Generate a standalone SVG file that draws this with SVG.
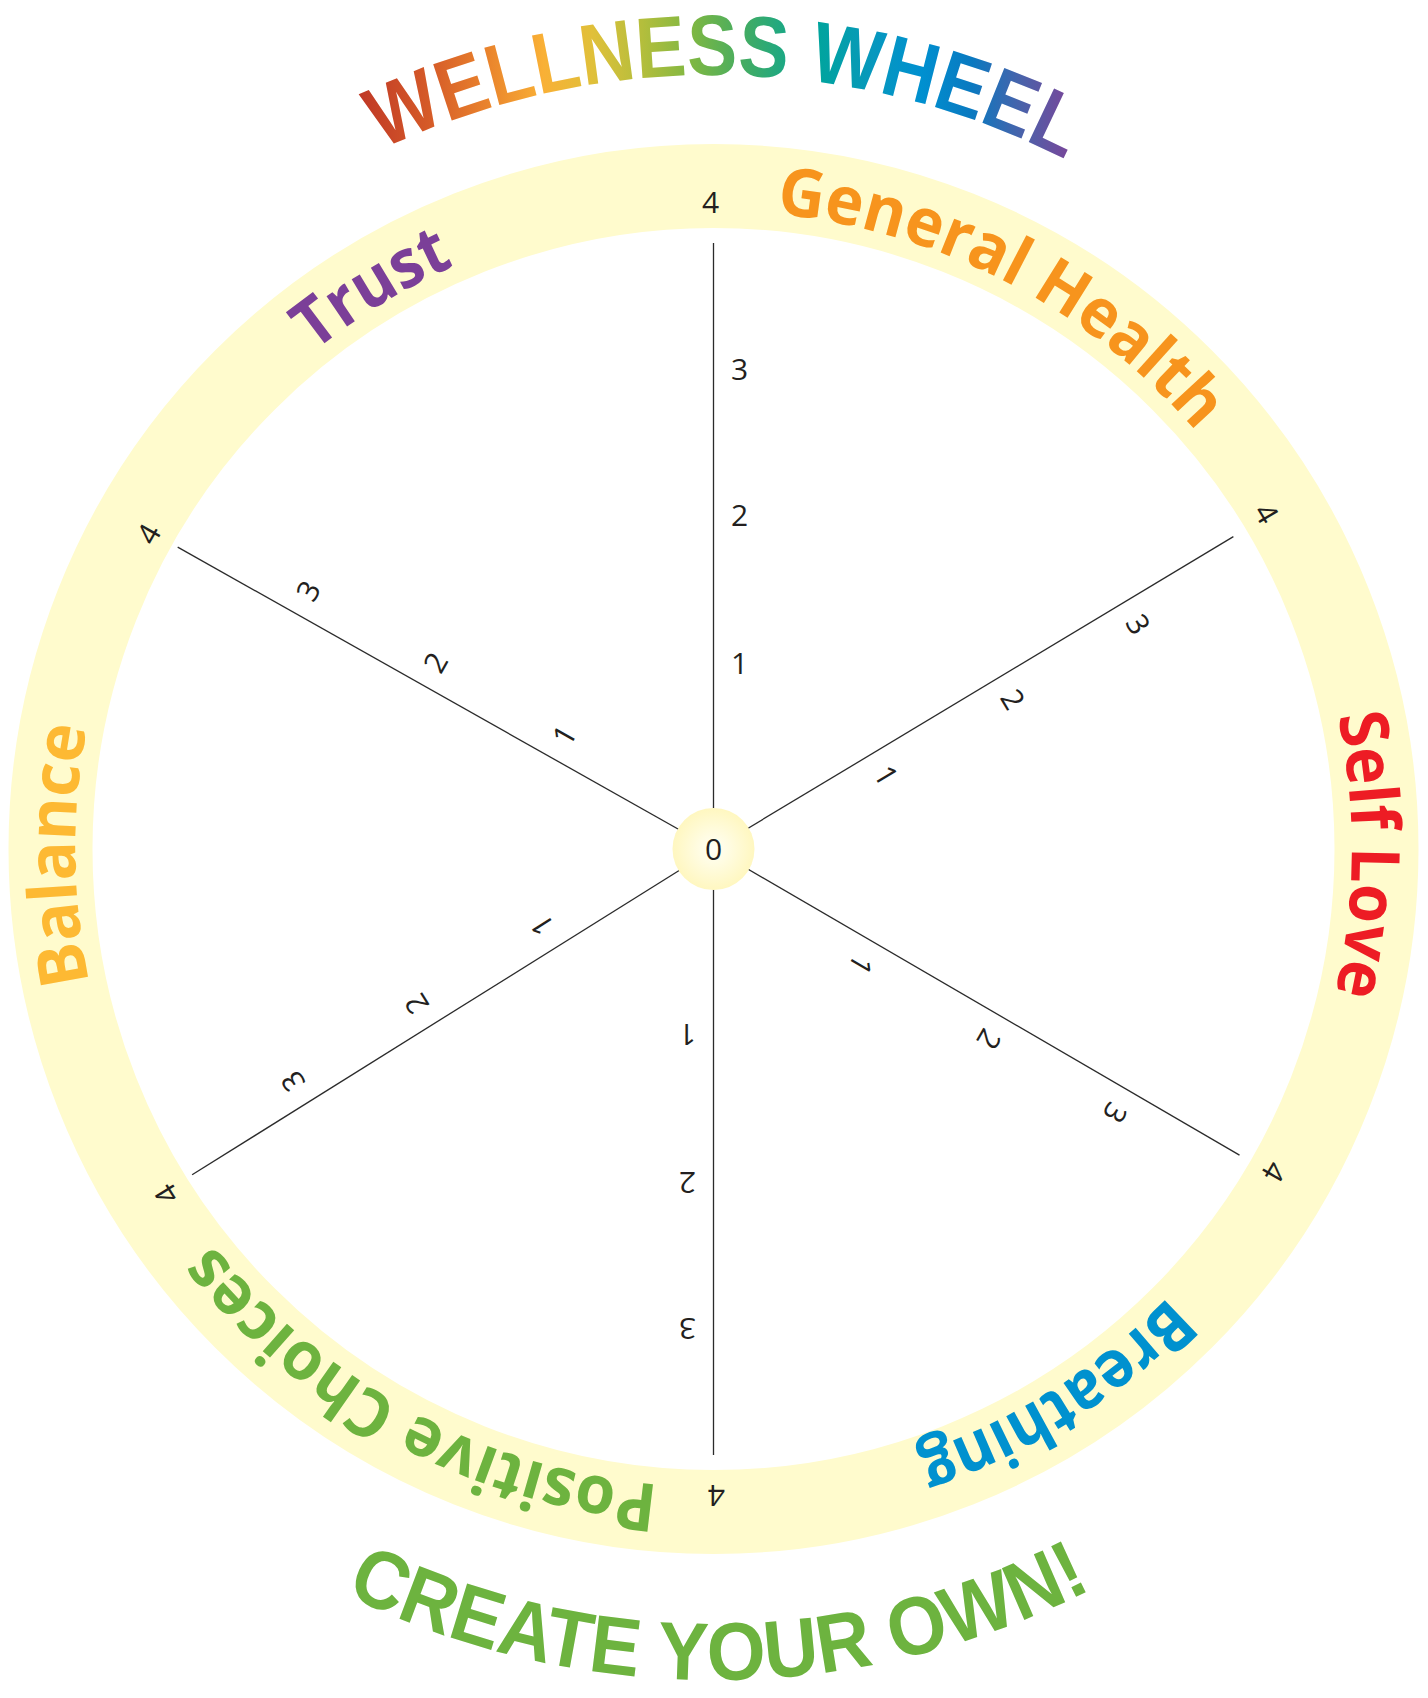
<svg xmlns="http://www.w3.org/2000/svg" width="1428" height="1698" viewBox="0 0 1428 1698">
<defs>
<style>
.num{font-family:"Open Sans","Liberation Sans",sans-serif;font-size:30px;fill:#231F20;text-anchor:middle}
.lab{font-family:"Open Sans","Liberation Sans",sans-serif;font-weight:700;font-size:67px;text-anchor:middle}
.big{font-family:"Liberation Sans","Open Sans",sans-serif;font-weight:700;text-anchor:middle}
.axis{stroke:#2B2B2B;stroke-width:1.3;fill:none}
</style>
<path id="ringPath" d="M713.5,211 A638,638 0 1 1 713.5,1487 A638,638 0 1 1 713.5,211"/>
<path id="titlePath" d="M-60.5,849 A774,774 0 0 1 1487.5,849"/>
<path id="bottomPath" d="M-117.5,849 A831,831 0 0 0 1544.5,849"/>
<linearGradient id="titleGrad" gradientUnits="userSpaceOnUse" x1="357" y1="0" x2="1072" y2="0">
<stop offset="0" stop-color="#BF3726"/>
<stop offset="0.1" stop-color="#D55A28"/>
<stop offset="0.18" stop-color="#E9822C"/>
<stop offset="0.26" stop-color="#F9B036"/>
<stop offset="0.33" stop-color="#E0C03A"/>
<stop offset="0.40" stop-color="#B3BE3C"/>
<stop offset="0.47" stop-color="#7DB743"/>
<stop offset="0.54" stop-color="#44AC62"/>
<stop offset="0.64" stop-color="#00A59B"/>
<stop offset="0.72" stop-color="#0798BD"/>
<stop offset="0.79" stop-color="#0090D0"/>
<stop offset="0.86" stop-color="#0A79C0"/>
<stop offset="0.93" stop-color="#4A62AA"/>
<stop offset="1" stop-color="#7B4599"/>
</linearGradient>
<radialGradient id="hubGrad" cx="0.5" cy="0.5" r="0.5">
<stop offset="0" stop-color="#FFFFF6"/>
<stop offset="1" stop-color="#FFF7C0"/>
</radialGradient>
</defs>
<rect width="1428" height="1698" fill="#FFFFFF"/>

<g id="ring">
<circle cx="713.5" cy="849" r="663" fill="none" stroke="#FFFBCD" stroke-width="84"/>
</g>

<g id="title">
<text class="big" font-size="86" fill="url(#titleGrad)"><textPath href="#titlePath" startOffset="1227" textLength="708" lengthAdjust="spacingAndGlyphs">WELLNESS WHEEL</textPath></text>
</g>

<g id="footer">
<text class="big" font-size="82" fill="#6DB33F"><textPath href="#bottomPath" startOffset="1311" textLength="775" lengthAdjust="spacingAndGlyphs">CREATE YOUR OWN!</textPath></text>
</g>

<g id="connectors">
<line class="axis" x1="713.5" y1="849" x2="713.5" y2="243" transform="rotate(0 713.5 849)"/>
<line class="axis" x1="713.5" y1="849" x2="713.5" y2="242.5" transform="rotate(59 713.5 849)"/>
<line class="axis" x1="713.5" y1="849" x2="713.5" y2="240.4" transform="rotate(120.2 713.5 849)"/>
<line class="axis" x1="713.5" y1="849" x2="713.5" y2="243" transform="rotate(180 713.5 849)"/>
<line class="axis" x1="713.5" y1="849" x2="713.5" y2="234.2" transform="rotate(238 713.5 849)"/>
<line class="axis" x1="713.5" y1="849" x2="713.5" y2="234" transform="rotate(299.4 713.5 849)"/>
</g>

<g id="scale-general-health" transform="rotate(0 713.5 849)">
<text class="num" x="739.5" y="674">1</text>
<text class="num" x="739.5" y="526">2</text>
<text class="num" x="739.5" y="380">3</text>
<text class="num" x="710.5" y="213">4</text>
</g>
<g id="scale-self-love" transform="rotate(59 713.5 849)">
<text class="num" x="739.5" y="674">1</text>
<text class="num" x="739.5" y="526">2</text>
<text class="num" x="739.5" y="380">3</text>
<text class="num" x="710.5" y="213">4</text>
</g>
<g id="scale-breathing" transform="rotate(120.2 713.5 849)">
<text class="num" x="739.5" y="674">1</text>
<text class="num" x="739.5" y="526">2</text>
<text class="num" x="739.5" y="380">3</text>
<text class="num" x="710.5" y="213">4</text>
</g>
<g id="scale-positive-choices" transform="rotate(180 713.5 849)">
<text class="num" x="739.5" y="674">1</text>
<text class="num" x="739.5" y="526">2</text>
<text class="num" x="739.5" y="380">3</text>
<text class="num" x="710.5" y="213">4</text>
</g>
<g id="scale-balance" transform="rotate(238 713.5 849)">
<text class="num" x="739.5" y="674">1</text>
<text class="num" x="739.5" y="526">2</text>
<text class="num" x="739.5" y="380">3</text>
<text class="num" x="710.5" y="213">4</text>
</g>
<g id="scale-trust" transform="rotate(299.4 713.5 849)">
<text class="num" x="739.5" y="674">1</text>
<text class="num" x="739.5" y="526">2</text>
<text class="num" x="739.5" y="380">3</text>
<text class="num" x="710.5" y="213">4</text>
</g>

<g id="hub">
<circle cx="713.5" cy="849" r="41" fill="url(#hubGrad)"/>
<text class="num" x="713.5" y="860">0</text>
</g>

<g id="label-general-health">
<text class="lab" fill="#F7941D"><textPath href="#ringPath" startOffset="305" textLength="485" lengthAdjust="spacingAndGlyphs">General Health</textPath></text>
</g>
<g id="label-self-love">
<text class="lab" fill="#ED1C24"><textPath href="#ringPath" startOffset="1008" textLength="280" lengthAdjust="spacingAndGlyphs">Self Love</textPath></text>
</g>
<g id="label-breathing">
<text class="lab" fill="#0091CF"><textPath href="#ringPath" startOffset="1648" textLength="300" lengthAdjust="spacingAndGlyphs">Breathing</textPath></text>
</g>
<g id="label-positive-choices">
<text class="lab" fill="#6DB33F"><textPath href="#ringPath" startOffset="2320" textLength="521" lengthAdjust="spacingAndGlyphs">Positive Choices</textPath></text>
</g>
<g id="label-balance">
<text class="lab" fill="#FDB933"><textPath href="#ringPath" startOffset="3001" textLength="257" lengthAdjust="spacingAndGlyphs">Balance</textPath></text>
</g>
<g id="label-trust">
<text class="lab" fill="#7B3F98"><textPath href="#ringPath" startOffset="3660" textLength="165" lengthAdjust="spacingAndGlyphs">Trust</textPath></text>
</g>
</svg>
